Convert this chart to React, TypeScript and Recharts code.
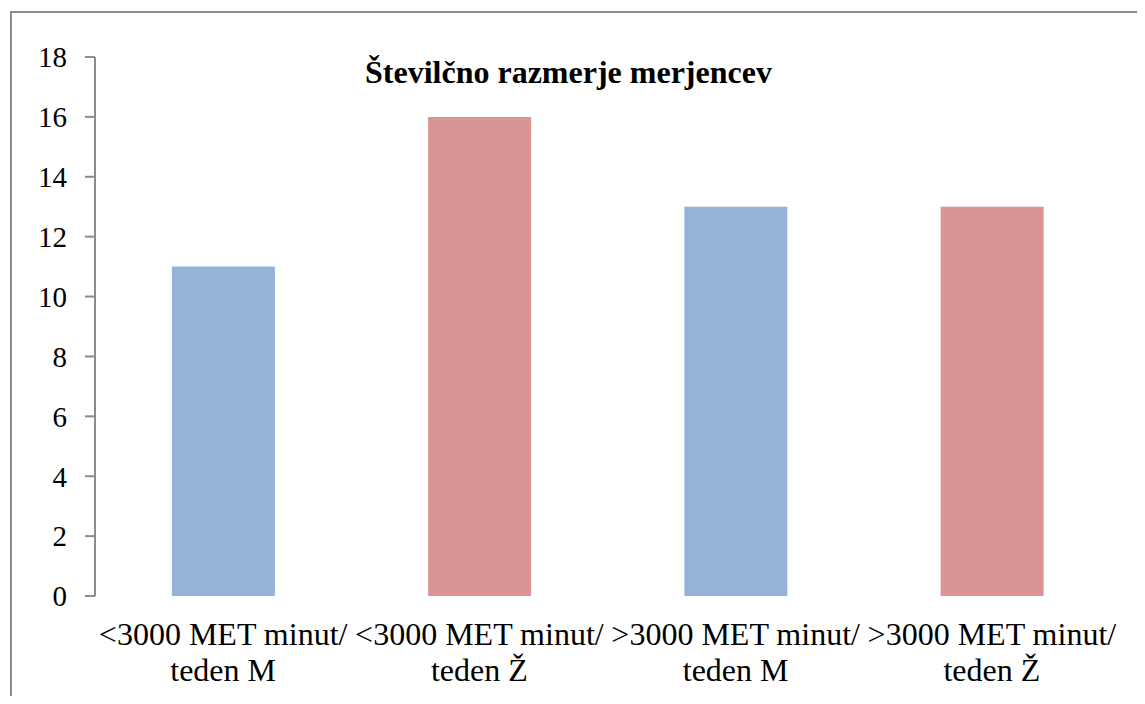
import React from 'react';
import { BarChart, Bar, XAxis, YAxis, Cell } from 'recharts';

const categories = [
  '<3000 MET minut/ teden M',
  '<3000 MET minut/ teden Ž',
  '>3000 MET minut/ teden M',
  '>3000 MET minut/ teden Ž'
];
const values = [11, 16, 13, 13];
const barColors = ['#95b3d7', '#d99594', '#95b3d7', '#d99594'];
const yTicks = [0, 2, 4, 6, 8, 10, 12, 14, 16, 18];
const boundaryTicks = [0, 1, 2, 3, 4];

const data = categories.map((name, i) => ({ name, value: values[i] }));

const FONT = 'Liberation Serif';
const AXIS_GRAY = '#8c8c8c';

// two-line category label, split after the slash
function CategoryTick({ x, y, payload }: any) {
  const text: string = payload.value;
  const cut = text.indexOf('/ ') + 1;
  const first = text.slice(0, cut);
  const second = text.slice(cut + 1);
  return (
    <text x={x} y={y} textAnchor="middle" fontFamily={FONT} fontSize={32} fill="#000">
      <tspan x={x} dy={41}>{first}</tspan>
      <tspan x={x} dy={36}>{second}</tspan>
    </text>
  );
}

export default function App() {
  return (
    <div style={{ position: 'relative', margin: -8, width: 1145, height: 704 }}>
      <div
        style={{
          position: 'absolute',
          left: 10,
          top: 11,
          width: 1125,
          height: 693,
          borderTop: `2px solid ${AXIS_GRAY}`,
          borderLeft: `2px solid ${AXIS_GRAY}`,
          borderRight: `2px solid ${AXIS_GRAY}`
        }}
      />
      <div
        style={{
          position: 'absolute',
          left: 365,
          top: 54,
          fontFamily: `"${FONT}"`,
          fontWeight: 'bold',
          fontSize: 32,
          whiteSpace: 'nowrap'
        }}
      >
        Številčno razmerje merjencev
      </div>
      <BarChart
        width={1145}
        height={704}
        data={data}
        margin={{ top: 57, right: 25, bottom: 0, left: 35 }}
        barCategoryGap="30%"
      >
        <XAxis
          xAxisId="cat"
          dataKey="name"
          axisLine={false}
          tickLine={false}
          interval={0}
          tick={<CategoryTick />}
          height={108}
        />
        {/* second axis only for the tick marks between categories */}
        <XAxis
          xAxisId="bound"
          type="number"
          domain={[0, 4]}
          ticks={boundaryTicks}
          tick={() => <g />}
          tickSize={9}
          axisLine={{ stroke: AXIS_GRAY, strokeWidth: 2 }}
          tickLine={{ stroke: AXIS_GRAY, strokeWidth: 2 }}
          height={0}
        />
        <YAxis
          width={60}
          domain={[0, 18]}
          ticks={yTicks}
          interval={0}
          tickSize={10}
          tickMargin={18}
          axisLine={{ stroke: AXIS_GRAY, strokeWidth: 2 }}
          tickLine={{ stroke: AXIS_GRAY, strokeWidth: 2 }}
          tick={{ fontFamily: FONT, fontSize: 29, fill: '#000' }}
        />
        <Bar dataKey="value" xAxisId="cat" isAnimationActive={false}>
          {data.map((d, i) => (
            <Cell key={d.name} fill={barColors[i]} />
          ))}
        </Bar>
      </BarChart>
    </div>
  );
}
